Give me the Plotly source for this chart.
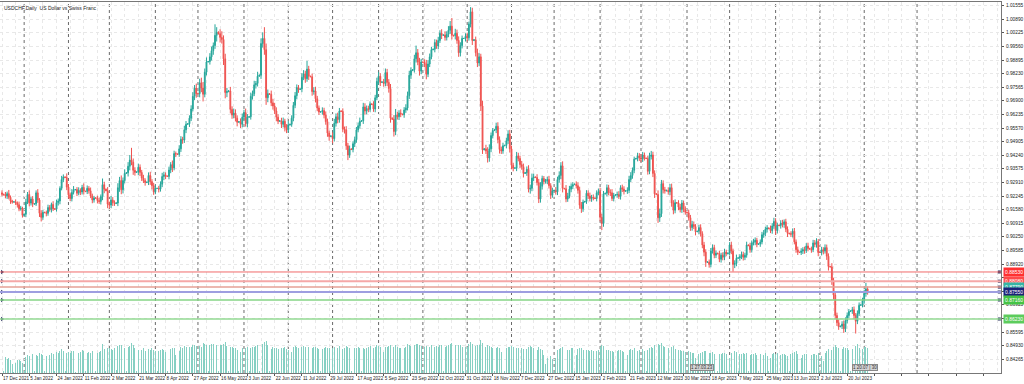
import plotly.graph_objects as go
import pandas as pd

# ---------------- data (prices in pips = price*10000) ----------------
first_open = 9240
closes = [
    9233,
    9230, 9225, 9236, 9218, 9200, 9195,
    9196, 9190, 9182, 9162, 9165, 9130,
    9135, 9195, 9232, 9190, 9210, 9185,
    9186, 9240, 9205, 9140, 9120, 9145,
    9143, 9140, 9168, 9158, 9183, 9162,
    9160, 9192, 9200, 9262, 9305, 9318,
    9315, 9268, 9230, 9212, 9242, 9255,
    9256, 9238, 9252, 9244, 9266, 9248,
    9246, 9262, 9250, 9224, 9205, 9215,
    9214, 9202, 9198, 9222, 9280, 9258,
    9250, 9185, 9180, 9205, 9192, 9188,
    9190, 9265, 9300, 9255, 9300, 9335,
    9338, 9370, 9400, 9390, 9350, 9340,
    9342, 9365, 9340, 9312, 9300, 9290,
    9292, 9325, 9295, 9275, 9245, 9262,
    9262, 9258, 9282, 9320, 9328, 9322,
    9320, 9352, 9378, 9362, 9432, 9430,
    9428, 9455, 9502, 9498, 9548, 9575,
    9578, 9605, 9650, 9712, 9752, 9725,
    9725, 9778, 9752, 9722, 9830, 9880,
    9882, 9905, 9935, 9960, 10010, 10025,
    10018, 10000, 9990, 9895, 9730, 9735,
    9738, 9648, 9620, 9630, 9605, 9585,
    9588, 9575, 9610, 9632, 9578, 9610,
    9612, 9712, 9725, 9768, 9775, 9810,
    9815, 9970, 9995, 9940, 9705, 9725,
    9722, 9680, 9665, 9640, 9610, 9590,
    9592, 9575, 9590, 9560, 9548, 9572,
    9575, 9605, 9668, 9715, 9755, 9745,
    9748, 9805, 9822, 9798, 9845, 9810,
    9808, 9735, 9738, 9700, 9655, 9635,
    9636, 9642, 9620, 9588, 9532, 9515,
    9518, 9505, 9580, 9612, 9598, 9640,
    9638, 9552, 9548, 9470, 9425, 9455,
    9452, 9480, 9500, 9548, 9568, 9590,
    9592, 9660, 9640, 9652, 9648, 9675,
    9672, 9650, 9705, 9785, 9810, 9780,
    9782, 9775, 9828, 9780, 9750, 9605,
    9600, 9540, 9620, 9612, 9630, 9625,
    9622, 9645, 9655, 9715, 9815, 9838,
    9842, 9895, 9925, 9880, 9835, 9880,
    9878, 9870, 9820, 9870, 9905, 9940,
    9942, 9975, 9958, 9985, 10020, 10010,
    10012, 10000, 10015, 10035, 10055, 10010,
    10008, 10020, 9985, 9925, 9960, 9995,
    9995, 10005, 9998, 10065, 10125, 9985,
    9988, 9925, 9875, 9905, 9665, 9450,
    9455, 9445, 9410, 9455, 9520, 9545,
    9548, 9565, 9500, 9452, 9445, 9470,
    9472, 9495, 9528, 9455, 9375, 9360,
    9362, 9420, 9408, 9378, 9368, 9335,
    9338, 9355, 9258, 9262, 9312, 9318,
    9315, 9290, 9210, 9272, 9310, 9295,
    9298, 9305, 9275, 9228, 9250,
    9252, 9245, 9305, 9325, 9372, 9262,
    9260, 9210, 9225, 9258, 9272, 9280,
    9282, 9275, 9252, 9180, 9162, 9195,
    9198, 9238, 9225, 9212, 9218, 9215,
    9212, 9240, 9245, 9120, 9090, 9235,
    9238, 9265, 9242, 9240, 9212, 9228,
    9230, 9232, 9222, 9265, 9258, 9248,
    9250, 9252, 9305, 9325, 9350, 9405,
    9408, 9420, 9412, 9405, 9425, 9410,
    9408, 9345, 9418, 9425, 9335, 9235,
    9232, 9118, 9138, 9285, 9255, 9250,
    9252, 9245, 9265, 9190, 9155, 9192,
    9190, 9170, 9158, 9190, 9160, 9145,
    9142, 9118, 9070, 9085, 9075, 9050,
    9052, 9070, 9040, 8985, 8950, 8900,
    8902, 8890, 8955, 8972, 8935, 8945,
    8942, 8915, 8935, 8925, 8950, 8942,
    8945, 8985, 8955, 8890, 8895, 8920,
    8922, 8928, 8938, 8925, 8935, 8985,
    8982, 8962, 8995, 9000, 9008, 8988,
    8990, 9000, 9035, 9042, 9062, 9068,
    9065, 9055, 9078, 9100, 9055, 9082,
    9080, 9092, 9085, 9098, 9062, 9042,
    9040, 9038, 9052, 9000, 8962, 8950,
    8948, 8955, 8962, 8958, 8980, 8968,
    8965, 8962, 8995, 8988, 9002, 8948,
    8948, 8962, 8955, 8972, 8930, 8880,
    8878, 8810, 8740, 8640, 8605, 8585,
    8588, 8598, 8575, 8615, 8640, 8660,
    8662, 8668, 8640, 8612, 8650, 8690,
    8692, 8712, 8748, 8770, 8757,
]
wick_up = [
    12,
    3, 14, 10, 18, 9, 6,   2, 12, 8, 15, 11, 7,   4, 16, 12, 20, 10, 14,
    3, 12, 18, 9, 15, 11,  2, 10, 14, 12, 9, 16,  3, 15, 12, 10, 18, 12,
    2, 20, 14, 11, 16, 18, 3, 12, 15, 10, 13, 20, 2, 14, 11, 16, 12, 10,
    4, 12, 15, 10, 30, 14, 3, 18, 12, 20, 14, 11, 4, 22, 18, 25, 15, 20,
    3, 20, 25, 60, 18, 15, 2, 18, 14, 12, 16, 11, 3, 15, 18, 12, 14, 16,
    2, 12, 14, 18, 15, 12, 3, 16, 12, 20, 14, 10, 2, 18, 15, 12, 20, 16,
    3, 14, 18, 20, 15, 22, 4, 20, 25, 30, 18, 22, 3, 18, 20, 15, 54, 25,
    5, 22, 30, 20, 25, 18, 4, 20, 15, 22, 18, 14, 3, 16, 18, 14, 20, 15,
    2, 18, 15, 20, 12, 22, 4, 25, 30, 55, 30, 20, 3, 18, 20, 15, 18, 14,
    2, 15, 18, 12, 16, 20, 3, 14, 16, 18, 15, 12, 2, 20, 18, 15, 40, 16,
    3, 15, 18, 20, 14, 12, 2, 16, 14, 18, 15, 12, 3, 18, 22, 16, 20, 15,
    4, 15, 12, 18, 14, 16, 2, 12, 15, 14, 16, 18, 3, 20, 18, 15, 14, 12,
    2, 16, 14, 18, 20, 15, 3, 15, 20, 18, 16, 22, 4, 20, 30, 16, 14, 18,
    2, 14, 18, 20, 22, 16, 3, 20, 35, 18, 20, 15, 2, 15, 20, 18, 16, 14,
    3, 16, 14, 18, 15, 20, 2, 18, 15, 20, 25, 40, 3, 22, 18, 20, 16, 14,
    2, 15, 18, 12, 23, 20, 4, 16, 20, 18, 15, 25, 3, 20, 18, 22, 15, 12,
    2, 18, 20, 16, 14, 15, 3, 15, 18, 20, 16, 12, 2, 20, 16, 14, 18, 15,
    3, 14, 20, 18, 22, 16, 2, 16, 18, 20, 14, 12, 10, 14, 18, 12, 15,
    3, 16, 14, 20, 18, 22, 2, 18, 15, 16, 14, 12, 3, 14, 16, 18, 15, 12,
    2, 15, 14, 16, 12, 14, 3, 12, 16, 20, 18, 14, 2, 16, 14, 15, 18, 12,
    3, 14, 16, 12, 15, 14, 2, 15, 18, 16, 14, 12, 3, 16, 14, 18, 15, 12,
    2, 14, 18, 20, 16, 15, 4, 20, 25, 18, 16, 14, 3, 15, 18, 20, 14, 16,
    2, 14, 16, 15, 12, 14, 3, 16, 14, 18, 15, 12, 2, 14, 16, 12, 15, 14,
    3, 12, 15, 16, 14, 12, 2, 15, 12, 14, 16, 12, 3, 14, 16, 12, 15, 18,
    2, 12, 15, 14, 12, 16, 3, 14, 12, 15, 14, 12, 2, 12, 14, 16, 12, 14,
    3, 15, 14, 18, 16, 12, 2, 14, 16, 12, 15, 14, 3, 12, 14, 16, 12, 15,
    2, 14, 12, 15, 14, 16, 3, 12, 15, 14, 16, 12, 2, 14, 12, 16, 15, 14,
    3, 18, 15, 12, 14, 16, 2, 14, 18, 16, 15, 12, 3, 14, 16, 12, 15, 14,
    2, 15, 18, 30, 12,
]
wick_dn = [
    10,
    2, 12, 15, 10, 14, 8,  3, 10, 14, 12, 9, 11,  2, 14, 10, 16, 12, 15,
    3, 10, 14, 18, 20, 12, 2, 15, 12, 10, 14, 11, 3, 12, 14, 16, 10, 13,
    2, 15, 18, 12, 14, 10, 3, 14, 10, 15, 12, 16, 2, 12, 14, 10, 16, 13,
    3, 14, 12, 15, 18, 20, 2, 20, 18, 14, 16, 12, 3, 15, 20, 22, 18, 14,
    2, 18, 20, 15, 22, 16, 3, 16, 18, 14, 12, 15, 2, 14, 16, 18, 15, 12,
    3, 16, 12, 14, 18, 15, 2, 14, 16, 20, 12, 15, 3, 12, 15, 18, 14, 16,
    2, 16, 14, 12, 18, 20, 3, 18, 20, 35, 15, 16, 2, 15, 18, 20, 16, 30,
    4, 25, 20, 30, 28, 22, 3, 20, 18, 15, 16, 20, 2, 18, 15, 16, 14, 18,
    3, 14, 16, 12, 18, 15, 2, 18, 20, 25, 35, 22, 3, 16, 18, 15, 20, 14,
    2, 18, 15, 20, 16, 14, 3, 12, 15, 14, 18, 16, 2, 16, 14, 20, 15, 18,
    3, 20, 15, 18, 16, 14, 2, 14, 16, 15, 18, 20, 3, 22, 14, 16, 18, 15,
    2, 16, 18, 20, 25, 14, 3, 14, 16, 15, 12, 14, 2, 15, 18, 16, 14, 12,
    3, 14, 16, 12, 15, 18, 2, 16, 14, 18, 20, 22, 3, 25, 18, 14, 16, 15,
    2, 15, 14, 12, 16, 18, 3, 14, 18, 16, 22, 15, 2, 16, 25, 14, 15, 12,
    3, 15, 14, 16, 12, 18, 2, 16, 15, 14, 18, 20, 3, 18, 16, 20, 18, 14,
    2, 15, 18, 14, 16, 22, 3, 18, 20, 16, 25, 20, 2, 15, 22, 18, 16, 14,
    3, 16, 18, 20, 15, 14, 2, 14, 16, 18, 20, 15, 3, 16, 14, 18, 15, 20,
    2, 15, 16, 22, 14, 15, 3, 14, 20, 18, 16, 14, 10, 15, 14, 18, 12,
    2, 14, 16, 15, 18, 20, 3, 16, 14, 12, 15, 14, 2, 14, 16, 18, 20, 15,
    3, 12, 15, 14, 16, 12, 2, 14, 12, 20, 32, 16, 3, 15, 14, 16, 12, 14,
    2, 14, 12, 15, 14, 16, 3, 15, 14, 12, 16, 14, 2, 14, 16, 15, 14, 12,
    3, 16, 14, 15, 18, 20, 2, 25, 20, 16, 18, 14, 3, 14, 16, 18, 20, 15,
    2, 15, 14, 16, 14, 12, 3, 14, 16, 15, 12, 18, 2, 15, 14, 16, 20, 22,
    3, 16, 14, 12, 15, 14, 2, 14, 16, 15, 14, 12, 3, 12, 15, 35, 18, 14,
    2, 14, 12, 16, 14, 12, 3, 15, 14, 12, 16, 14, 2, 14, 12, 15, 14, 16,
    3, 12, 15, 14, 20, 14, 2, 15, 14, 16, 14, 18, 3, 14, 16, 12, 15, 14,
    2, 12, 14, 16, 12, 14, 3, 15, 12, 14, 16, 18, 2, 14, 16, 12, 18, 20,
    3, 20, 22, 18, 16, 15, 2, 14, 20, 16, 14, 12, 3, 14, 18, 60, 14, 12,
    2, 12, 14, 16, 15,
]
volumes = [
    55,
    6, 52, 48, 50, 45, 30,  5, 35, 42, 45, 40, 32,  6, 55, 60, 58, 62, 65,
    7, 60, 58, 66, 64, 60,  6, 58, 62, 60, 66, 64,  7, 70, 68, 75, 80, 72,
    6, 66, 70, 68, 72, 74,  5, 62, 66, 70, 78, 72,  6, 68, 70, 66, 72, 64,
    7, 66, 70, 74, 98, 80,  8, 82, 85, 80, 78, 84,  9, 90, 92, 95, 88, 84,
    8, 86, 90, 100, 92, 82, 6, 78, 80, 76, 82, 74,  7, 80, 76, 82, 78, 72,
    6, 74, 78, 80, 76, 70,  7, 76, 80, 82, 85, 60,  5, 72, 86, 84, 90, 86,
    7, 88, 86, 92, 95, 90,  8, 90, 88, 100, 98, 92, 8, 94, 96, 98, 105, 95,
    7, 92, 94, 96, 102, 90, 6, 88, 86, 84, 82, 78, 7, 70, 84, 86, 82, 88,
    6, 84, 86, 88, 90, 92,  8, 96, 98, 104, 108, 94, 6, 80, 86, 84, 82, 80,
    7, 82, 84, 86, 80, 78,  6, 70, 86, 90, 88, 84,  7, 86, 90, 88, 92, 86,
    6, 84, 86, 88, 84, 80,  7, 80, 82, 86, 84, 82,  6, 84, 88, 86, 82, 90,
    7, 80, 82, 90, 88, 84,  6, 78, 82, 84, 86, 82,  7, 84, 80, 82, 86, 90,
    6, 82, 88, 92, 90, 86,  7, 70, 86, 88, 90, 94,  6, 86, 94, 88, 84, 82,
    7, 84, 86, 96, 94, 90,  8, 92, 96, 98, 94, 90,  6, 88, 90, 86, 88, 92,
    7, 86, 90, 88, 92, 94,  6, 88, 90, 92, 96, 100, 7, 92, 90, 94, 92, 88,
    6, 86, 88, 96, 104, 98, 7, 90, 92, 94, 110, 100, 6, 88, 92, 90, 86, 84,
    7, 82, 86, 84, 70, 60,  6, 82, 86, 88, 90, 86,  7, 84, 82, 86, 84, 80,
    6, 80, 88, 90, 86, 82,  7, 78, 86, 80, 76, 60,  30, 50, 55, 58, 48,
    5, 50, 78, 80, 82, 86,  6, 80, 78, 76, 82, 84,  7, 60, 80, 84, 82, 78,
    6, 76, 78, 74, 76, 72,  7, 74, 76, 88, 92, 90,  6, 78, 76, 74, 72, 70,
    7, 72, 78, 76, 74, 70,  6, 60, 76, 80, 78, 82,  7, 74, 78, 76, 80, 72,
    6, 78, 84, 86, 82, 92,  8, 96, 94, 100, 90, 86, 7, 84, 82, 88, 90, 80,
    6, 76, 78, 74, 72, 70,  7, 72, 70, 68, 66, 50,  6, 62, 66, 70, 72, 74,
    7, 68, 66, 70, 64, 62,  6, 62, 64, 66, 68, 64,  7, 50, 66, 72, 74, 70,
    6, 62, 64, 66, 62, 68,  7, 60, 62, 64, 66, 60,  6, 62, 64, 60, 66, 58,
    7, 50, 62, 66, 64, 68,  6, 60, 62, 64, 60, 58,  7, 62, 66, 70, 72, 64,
    6, 50, 60, 62, 64, 58,  7, 60, 62, 64, 60, 66,  6, 58, 40, 66, 74, 80,
    7, 78, 86, 94, 88, 82,  6, 80, 86, 84, 82, 78,  7, 80, 84, 90, 96, 84,
    6, 80, 86, 88, 82,
]

x_tick_labels = [
    "17 Dec 2021", "5 Jan 2022", "24 Jan 2022", "11 Feb 2022", "2 Mar 2022",
    "21 Mar 2022", "8 Apr 2022", "27 Apr 2022", "16 May 2022", "3 Jun 2022",
    "22 Jun 2022", "11 Jul 2022", "29 Jul 2022", "17 Aug 2022", "5 Sep 2022",
    "23 Sep 2022", "12 Oct 2022", "31 Oct 2022", "18 Nov 2022", "7 Dec 2022",
    "27 Dec 2022", "15 Jan 2023", "2 Feb 2023", "21 Feb 2023", "12 Mar 2023",
    "30 Mar 2023", "18 Apr 2023", "7 May 2023", "25 May 2023", "13 Jun 2023",
    "2 Jul 2023", "20 Jul 2023",
]
y_tick_values = [
    0.84265, 0.84930, 0.85595, 0.86260, 0.86925, 0.87590, 0.88255, 0.88920,
    0.89585, 0.90250, 0.90915, 0.91580, 0.92245, 0.92910, 0.93575, 0.94240,
    0.94905, 0.95570, 0.96235, 0.96900, 0.97565, 0.98230, 0.98895, 0.99560,
    1.00225, 1.00890, 1.01555,
]
# axis labels hidden behind the level labels in the reference
y_hidden = [0.86260, 0.87590, 0.88255]
# horizontal levels: price, line colour, line width, label background
levels = [0.88530, 0.88080, 0.87790, 0.87550, 0.87160, 0.86230]
level_line_colors = ["#f06a6a", "#f5a8a8", "#e6a096", "#9e9ee0", "#86d486", "#93da93"]
level_widths = [1, 2, 1.5, 2, 1.5, 1.5]
level_label_colors = ["#ff3030", "#ff4a4a", "#35b5a5", "#1c2278", "#45c445", "#5ccc5c"]
title_text = "USDCHF,Daily  US Dollar vs Swiss Franc"
box_labels = ["1 27.03.23", "1 20.07 | 30"]
box_bars = [404, 499]

FONT = "Liberation Sans, Arial, sans-serif"

# ---------------- build ----------------
n = min(len(closes), len(wick_up), len(wick_dn), len(volumes))
closes = closes[:n]
dr = pd.date_range("2021-12-17", "2023-08-03", freq="D")
dates = [d for d in dr if d.weekday() != 5 and d != pd.Timestamp("2022-12-25")][:n]
idx = list(range(n))

opens = [first_open] + closes[:-1]
highs = [(max(o, c) + u) / 10000 for o, c, u in zip(opens, closes, wick_up)]
lows = [(min(o, c) - d) / 10000 for o, c, d in zip(opens, closes, wick_dn)]
o_p = [v / 10000 for v in opens]
c_p = [v / 10000 for v in closes]

PX0, PXB = 2.0, 1.704  # first bar pixel, pixels per bar
xr = [(0 - PX0) / PXB, (1001 - PX0) / PXB]
yr = [0.83590, 1.01731]

fig = go.Figure()
fig.add_trace(go.Bar(
    x=idx, y=volumes[:n], yaxis="y2", width=0.55,
    marker=dict(color="#86d0c3", line=dict(width=0)), hoverinfo="skip"))
fig.add_trace(go.Candlestick(
    x=idx, open=o_p, high=highs, low=lows, close=c_p,
    increasing=dict(line=dict(color="#26a69a", width=1), fillcolor="#26a69a"),
    decreasing=dict(line=dict(color="#ef5350", width=1), fillcolor="#ef5350"),
    whiskerwidth=0, hoverinfo="skip"))

shapes = []
seps = [i for i in range(1, n) if dates[i].month != dates[i - 1].month]
seps.append(n - 1 + (pd.Timestamp("2023-09-01") - dates[-1]).days)
for s in seps:
    shapes.append(dict(type="line", xref="x", yref="paper", x0=s, x1=s, y0=0, y1=1,
                       line=dict(color="#6a6a6a", width=1, dash="3px,3px"), layer="below"))
for p, col, w in zip(levels, level_line_colors, level_widths):
    shapes.append(dict(type="line", xref="paper", yref="y", x0=0, x1=1, y0=p, y1=p,
                       line=dict(color=col, width=w)))

annotations = [dict(text=title_text, xref="paper", yref="paper", x=0.002, y=0.998,
                    xanchor="left", yanchor="top", showarrow=False,
                    font=dict(size=5, color="#222", family=FONT))]
for p, bg in zip(levels, level_label_colors):
    annotations.append(dict(text=f"{p:.5f}", xref="paper", yref="y", x=1.0, y=p,
                            xanchor="left", yanchor="middle", xshift=2, showarrow=False,
                            bgcolor=bg, borderpad=1,
                            font=dict(size=5, color="white", family=FONT)))
for b, t in zip(box_bars, box_labels):
    annotations.append(dict(text=t, xref="x", yref="paper", x=b, y=0.006,
                            xanchor="left", yanchor="bottom", showarrow=False,
                            bgcolor="#d4d4d4", bordercolor="#8a8a8a", borderwidth=1, borderpad=0,
                            font=dict(size=4.5, color="#333", family=FONT)))

fig.add_trace(go.Scatter(x=[xr[0] + 1.2] * 5, y=[levels[i] for i in (0, 1, 3, 4, 5)],
                         mode="markers", cliponaxis=False, hoverinfo="skip",
                         marker=dict(symbol="triangle-right", size=4, color="#2a3060")))
fig.add_trace(go.Scatter(x=[xr[1] - 1.0] * 6, y=levels,
                         mode="markers", cliponaxis=False, hoverinfo="skip",
                         marker=dict(symbol="square", size=3, color="#2a3060")))

xt = list(range(0, int(xr[1]) + 1, 16))
xtt = x_tick_labels + [""] * (len(xt) - len(x_tick_labels))
ytt = ["" if v in y_hidden else f"{v:.5f}" for v in y_tick_values]

fig.update_layout(
    width=1024, height=384, margin=dict(l=0, r=23, t=2, b=11, autoexpand=False),
    paper_bgcolor="white", plot_bgcolor="white", showlegend=False,
    font=dict(family=FONT, size=5, color="#222"),
    shapes=shapes, annotations=annotations, bargap=0,
    xaxis=dict(range=xr, tickmode="array", tickvals=xt, ticktext=xtt, tickangle=0,
               ticks="outside", ticklen=2, tickcolor="#555", automargin=False,
               ticklabelposition="outside right", ticklabelstandoff=0,
               showgrid=True, gridcolor="#e8e8e8", griddash="dot", gridwidth=1,
               minor=dict(tick0=0, dtick=8, showgrid=True, gridcolor="#e8e8e8", griddash="dot"),
               showline=True, linecolor="#777", linewidth=1, mirror=True,
               rangeslider=dict(visible=False), zeroline=False,
               tickfont=dict(size=4.6, color="#222", family=FONT)),
    yaxis=dict(range=yr, side="right", tickmode="array", tickvals=y_tick_values,
               ticktext=ytt, ticks="outside", ticklen=2, tickcolor="#555",
               automargin=False, ticklabelstandoff=1,
               showgrid=True, gridcolor="#e8e8e8", griddash="dot",
               showline=True, linecolor="#777", linewidth=1, mirror=True,
               zeroline=False, tickfont=dict(size=4.8, color="#222", family=FONT)),
    yaxis2=dict(overlaying="y", range=[0, 1237], visible=False, fixedrange=True),
)
fig.write_html("out.html", config={"displayModeBar": False, "staticPlot": True},
               post_script="document.body.style.margin='0px';document.body.style.overflow='hidden';")
